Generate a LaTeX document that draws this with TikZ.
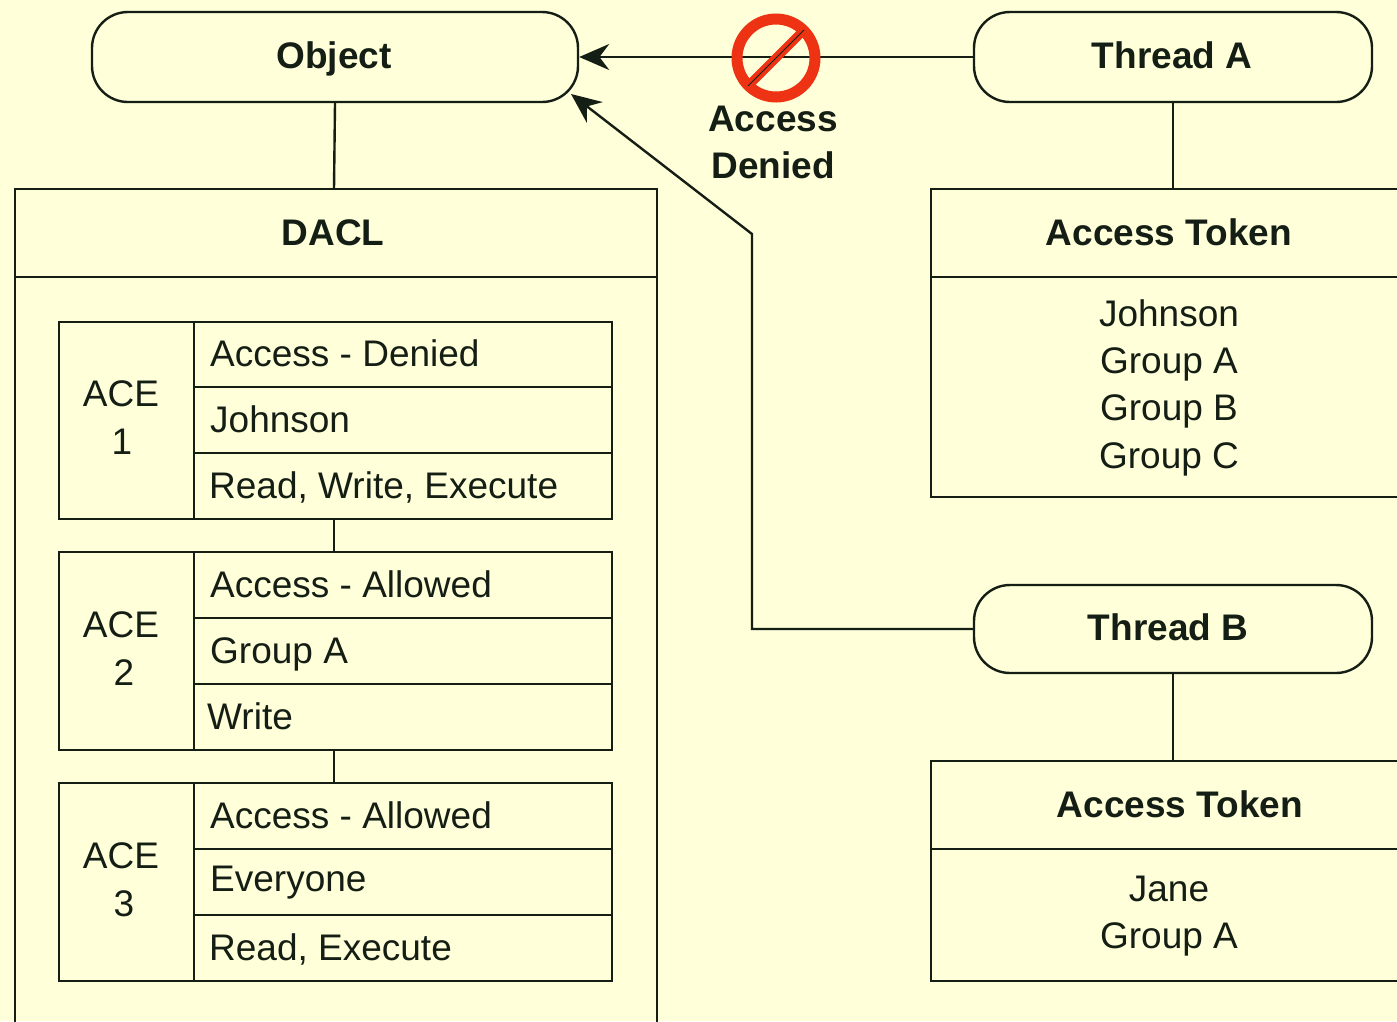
\documentclass[tikz,border=0pt]{standalone}
\usepackage{fontspec}
\setmainfont{Liberation Sans}
\usetikzlibrary{arrows.meta}
\definecolor{bgc}{RGB}{255,255,217}
\definecolor{ink}{RGB}{20,30,20}
\definecolor{stopred}{RGB}{238,50,20}
\tikzset{
  x=1pt,y=-1pt,
  line/.style={draw=ink,line width=2.4pt},
  pill/.style={line,rounded corners=36pt},
  lbl/.style={font=\fontsize{37}{37}\selectfont,text=ink,inner sep=0pt,anchor=base west},
  clbl/.style={font=\fontsize{37}{37}\selectfont,text=ink,inner sep=0pt,anchor=base},
  blbl/.style={font=\fontsize{37}{37}\selectfont\bfseries,text=ink,inner sep=0pt,anchor=base},
  tip/.style={-{Stealth[length=30pt,width=26pt]}}
}
\begin{document}
\begin{tikzpicture}
\path[fill=bgc] (0,0) rectangle (1397,1021);
\clip (0,0) rectangle (1397,1021);
\useasboundingbox (0,0) rectangle (1397,1021);
% pills
\node[pill,minimum width=486pt,minimum height=90pt,inner sep=0pt] (obj) at (335,57) {};
\node[blbl] (objt) at (334,68) {Object};
\node[pill,minimum width=398pt,minimum height=90pt,inner sep=0pt] (ta) at (1173,57) {};
\node[blbl] (tat) at (1172,68) {Thread A};
\node[pill,minimum width=398pt,minimum height=88pt,inner sep=0pt] (tb) at (1173,629) {};
\node[blbl] (tbt) at (1168,640) {Thread B};
% DACL
\coordinate (dt) at (334,189);
\draw[line] (15,1030) -- (15,189) -- (657,189) -- (657,1030);
\draw[line] (15,277) -- (657,277);
\node[blbl] (dacl) at (333,245) {DACL};
\draw[line] (obj.south) -- (dt);
% ACE 1
\draw[line] (59,322) rectangle (612,519);
\draw[line] (194,322) -- (194,519) (194,387) -- (612,387) (194,453) -- (612,453);
\node[clbl] (a1a) at (121,406) {ACE};
\node[clbl] (a1b) at (122,454) {1};
\node[lbl] (a1c) at (210,366) {Access - Denied};
\node[lbl] (a1d) at (210,432) {Johnson};
\node[lbl] (a1e) at (209,498) {Read, Write, Execute};
% ACE 2
\draw[line] (59,552) rectangle (612,750);
\draw[line] (194,552) -- (194,750) (194,618) -- (612,618) (194,684) -- (612,684);
\node[clbl] (a2a) at (121,637) {ACE};
\node[clbl] (a2b) at (124,685) {2};
\node[lbl] (a2c) at (210,597) {Access - Allowed};
\node[lbl] (a2d) at (210,663) {Group A};
\node[lbl] (a2e) at (207,729) {Write};
% ACE 3
\draw[line] (59,783) rectangle (612,981);
\draw[line] (194,783) -- (194,981) (194,849) -- (612,849) (194,915) -- (612,915);
\node[clbl] (a3a) at (121,868) {ACE};
\node[clbl] (a3b) at (124,916) {3};
\node[lbl] (a3c) at (210,828) {Access - Allowed};
\node[lbl] (a3d) at (210,891) {Everyone};
\node[lbl] (a3e) at (209,960) {Read, Execute};
\draw[line] (334,519) -- (334,552);
\draw[line] (334,750) -- (334,783);
% token A
\draw[line] (1400,189) -- (931,189) -- (931,497) -- (1400,497);
\draw[line] (931,277) -- (1400,277);
\node[blbl] (tka) at (1169,245) {Access Token};
\draw[line] (ta.south) -- (1173,189);
\node[clbl] (p1) at (1169,326) {Johnson};
\node[clbl] (p2) at (1169,373) {Group A};
\node[clbl] (p3) at (1169,420) {Group B};
\node[clbl] (p4) at (1169,468) {Group C};
% token B
\draw[line] (1400,761) -- (931,761) -- (931,981) -- (1400,981);
\draw[line] (931,849) -- (1400,849);
\node[blbl] (tkb) at (1180,817) {Access Token};
\draw[line] (tb.south) -- (1173,761);
\node[clbl] (p5) at (1169,901) {Jane};
\node[clbl] (p6) at (1169,948) {Group A};
% connectors
\draw[line,tip] (ta.west) -- (obj.east);
\coordinate (bend) at (752,234);
\coordinate (objtip) at (571,94);
\draw[line,tip] (tb.west) -- (752,629) -- (bend) -- (objtip);
% no sign
\draw[stopred,line width=11pt] (776,58) circle (39pt);
\draw[stopred,line width=9pt] (750,84) -- (802,32);
\draw[ink,line width=1pt] (748,86) -- (804,30);
\node[blbl] (ad1) at (773,131) {Access};
\node[blbl] (ad2) at (773,178) {Denied};
\end{tikzpicture}
\end{document}
